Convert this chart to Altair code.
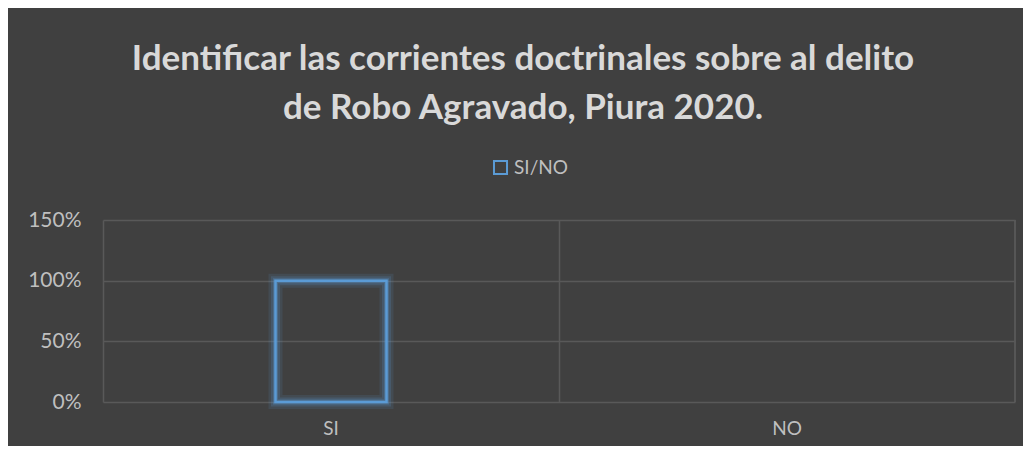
import altair as alt
import pandas as pd

categories = ["SI", "NO"]
values = [1.0, 0.0]
series = ["SI/NO", "SI/NO"]
y_ticks = [0, 0.5, 1.0, 1.5]
title_lines = ["Identificar las corrientes doctrinales sobre al delito",
               "de Robo Agravado, Piura 2020."]

df = pd.DataFrame({"cat": categories, "v": values, "serie": series})

BG = "#404040"
GRID = "#595959"
BLUE = "#5B9BD5"
TXT = "#BFBFBF"
FONT = "Lato"

x = alt.X("cat:N", sort=categories,
          scale=alt.Scale(domain=categories, paddingInner=0, paddingOuter=0),
          axis=alt.Axis(title=None, labelAngle=0, labelColor=TXT, labelFontSize=19,
                        labelFont=FONT, labelPadding=17, domain=False, ticks=False,
                        grid=True, gridColor=GRID, gridWidth=1.5, bandPosition=0))
y = alt.Y("v:Q", scale=alt.Scale(domain=[0, 1.5], nice=False),
          axis=alt.Axis(title=None, values=y_ticks, format=".0%", labelColor=TXT,
                        labelFontSize=21, labelFont=FONT, labelPadding=22,
                        domain=False, ticks=False, grid=True, gridColor=GRID,
                        gridWidth=1.5))

legend = alt.Legend(title=None, orient="none", legendX=388, legendY=-62,
                    symbolType="square", symbolSize=170, symbolStrokeWidth=2,
                    symbolOpacity=1, symbolStrokeColor=BLUE,
                    symbolFillColor="transparent",
                    labelColor=TXT, labelFontSize=19, labelFont=FONT)
color = alt.Color("serie:N", scale=alt.Scale(range=[BLUE]), legend=legend)

base = alt.Chart(df).transform_filter("datum.v > 0")

glow1 = base.mark_bar(filled=False, size=111, strokeWidth=14, opacity=0.12).encode(
    x=x, y=y, color=color)
glow2 = base.mark_bar(filled=False, size=111, strokeWidth=9, opacity=0.18).encode(
    x=x, y=y, color=color)
glow3 = base.mark_bar(filled=False, size=111, strokeWidth=5, opacity=0.3).encode(
    x=x, y=y, color=color)
bars = base.mark_bar(filled=False, size=111, strokeWidth=2.5).encode(
    x=x, y=y, color=color)
right_edge = alt.Chart(df).mark_rule(color=GRID, strokeWidth=1.5).encode(
    x=alt.value(912), y=alt.value(0), y2=alt.value(182))

chart = alt.layer(right_edge, glow1, glow2, glow3, bars).properties(
    width=912, height=182,
    autosize=alt.AutoSizeParams(type="none"),
    padding={"left": 95, "top": 212, "right": 8, "bottom": 44},
    background=BG,
    title=alt.TitleParams(text=title_lines, fontSize=35, font=FONT, fontWeight="bold",
                          color="#D9D9D9", anchor="middle", dx=-36, offset=32,
                          lineHeight=49),
).configure_view(stroke=None)

chart.save("out.html", embed_options={"renderer": "svg", "actions": False})
